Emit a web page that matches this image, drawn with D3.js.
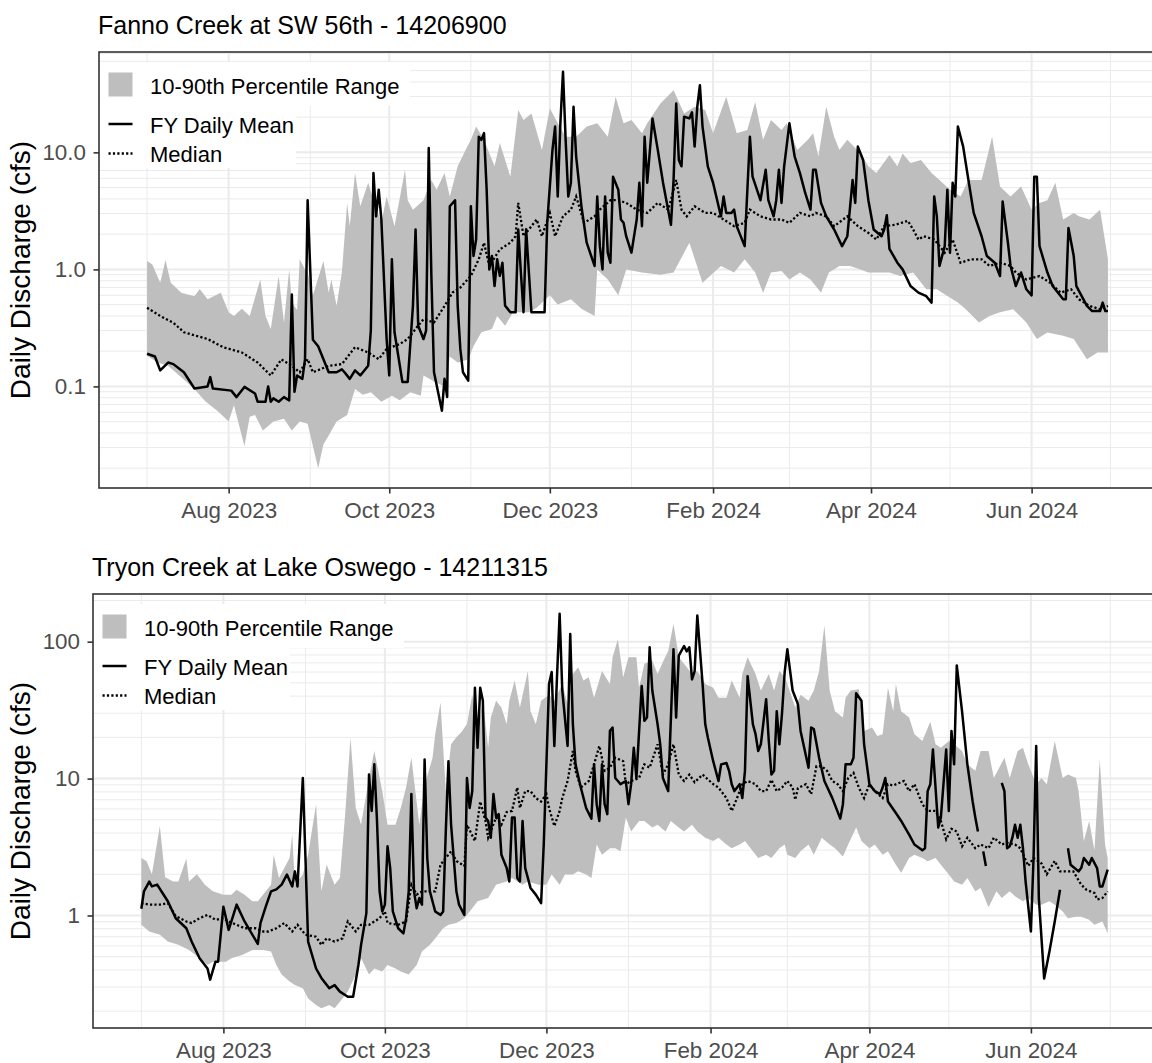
<!DOCTYPE html>
<html lang="en">
<head>
<meta charset="UTF-8">
<title>Daily Discharge - Fanno Creek and Tryon Creek</title>
<script src="https://d3js.org/d3.v7.min.js"></script>
<style>
  body { margin: 0; background: #fff; }
  svg { display: block; }
  svg text { font-family: "Liberation Sans", Arial, sans-serif; }
</style>
</head>
<body>
<svg id="chart" width="1152" height="1063"></svg>
<script>
// fiscal year runs 2023-07-01 .. 2024-06-30, day 0 = Jul 1 2023
// each series is [day, cfs]; null = missing day

const fannoMean = [[0,0.19],[3,0.18],[5,0.137],[8,0.16],[10,0.155],[14,0.132],[18,0.096],[23,0.10],[24,0.12],[25,0.096],
  [32,0.092],[34,0.081],[37,0.099],[41,0.087],[42,0.074],[45,0.074],[46,0.10],[47,0.074],[48,0.079],[50,0.074],[52,0.081],
  [54,0.076],[55,0.61],[56,0.09],[57,0.124],[59,0.116],[60,0.17],[61,3.9],[63,0.25],[65,0.22],[69,0.132],[72,0.132],[74,0.14],
  [75,0.132],[77,0.116],[79,0.137],[81,0.124],[84,0.15],[85,0.3],[86,6.65],[87,2.84],[88,4.8],[89,2.67],[91,0.254],[92,0.124],
  [93,1.22],[94,0.29],[97,0.109],[99,0.109],[101,0.487],[102,2.19],[103,0.33],[105,0.254],[106,0.30],[107,10.9],[108,0.88],
  [109,0.132],[112,0.062],[113,0.116],[114,0.081],[115,3.46],[117,3.9],[118,0.487],[119,0.209],[120,0.132],[122,0.112],
  [123,3.46],[124,1.3],[125,1.8],[126,13.6],[127,12.8],[128,14.6],[129,4.8],[130,1.0],[131,1.3],[132,0.72],[133,1.22],
  [134,0.88],[135,1.14],[136,0.49],[138,0.43],[140,0.43],[141,2.19],[142,0.94],[143,0.43],[144,2.2],[146,0.43],[151,0.43],
  [152,2.5],[154,10.5],[155,16.6],[156,4.2],[157,17.7],[158,48.8],[159,12.8],[160,4.2],[161,5.5],[162,24.5],[163,9.2],
  [165,3.46],[167,1.69],[170,1.07],[171,4.2],[172,1.58],[173,1.0],[174,4.2],[175,1.39],[176,1.14],[177,6.2],[179,4.8],
  [180,2.67],[181,2.5],[182,1.92],[184,1.39],[186,2.67],[187,5.5],[188,2.34],[189,13.6],[190,5.5],[192,19.5],[194,10.5],
  [196,5.5],[199,2.4],[200,5.8],[201,26.2],[202,8.6],[203,7.6],[204,20.2],[206,19.5],[207,22],[208,11.2],[209,24.5],
  [210,37.5],[211,16.6],[213,7.6],[215,5.5],[218,2.84],[219,4.2],[220,3.04],[222,3.04],[223,3.24],[224,2.34],[225,2.05],
  [227,1.58],[229,13.6],[230,6.2],[233,3.9],[235,7.1],[236,3.9],[238,2.84],[239,3.9],[240,7.1],[241,3.7],[242,7.6],
  [244,17.7],[246,9.2],[248,6.65],[250,4.5],[252,3.24],[253,7.1],[254,7.1],[256,3.7],[258,2.84],[261,2.19],[264,1.58],
  [266,1.92],[268,5.8],[269,3.7],[270,11.2],[272,8.6],[274,3.9],[276,2.19],[279,1.92],[280,2.19],[281,2.9],[282,1.5],
  [285,1.14],[287,1.0],[290,0.72],[293,0.633],[296,0.59],[298,0.52],[299,4.2],[300,2.84],[301,1.07],[303,1.58],[304,4.8],
  [305,1.39],[306,5.5],[307,4.2],[308,16.6],[310,11.2],[312,5.8],[314,3.04],[317,1.92],[319,1.3],[322,1.14],[324,0.877],
  [325,3.8],[327,1.69],[328,1.07],[330,0.72],[332,0.94],[334,0.676],[336,0.6],[337,6.2],[338,6.2],[339,1.58],[342,0.94],
  [344,0.72],[348,0.555],[349,0.555],[350,2.26],[352,1.3],[353,0.72],[357,0.487],[359,0.44],[362,0.44],[363,0.52],
  [364,0.44],[365,0.44]];

const fannoMedian = [[0,0.47],[5,0.40],[10,0.35],[14,0.29],[23,0.254],[29,0.216],[36,0.195],[42,0.16],[47,0.124],[51,0.17],
  [55,0.15],[58,0.132],[61,0.171],[63,0.132],[69,0.15],[74,0.155],[79,0.216],[84,0.195],[88,0.171],[91,0.209],[96,0.23],
  [99,0.254],[103,0.33],[105,0.375],[109,0.352],[113,0.487],[116,0.633],[119,0.70],[123,0.88],[126,1.22],[128,1.69],
  [130,1.07],[134,1.48],[138,1.69],[140,1.92],[141,3.7],[143,1.92],[146,2.34],[148,2.67],[150,1.92],[153,3.04],[155,1.92],
  [158,2.84],[161,3.24],[163,4.2],[166,2.5],[170,2.84],[172,3.24],[176,3.9],[179,3.9],[182,3.7],[186,3.24],[190,3.04],
  [194,3.7],[198,3.24],[201,5.8],[203,3.24],[205,2.84],[208,3.46],[212,3.04],[215,3.04],[219,2.67],[223,2.34],[227,2.5],
  [229,3.24],[233,2.84],[237,2.67],[241,2.67],[244,2.5],[248,3.04],[252,2.84],[254,3.04],[258,2.84],[261,2.34],[266,2.84],
  [270,2.34],[274,2.05],[277,1.8],[280,2.34],[284,2.4],[289,2.6],[291,2.19],[293,1.8],[295,1.92],[299,1.8],[303,1.39],
  [306,1.8],[309,1.14],[313,1.22],[317,1.22],[320,1.07],[324,1.14],[328,1.07],[330,0.94],[334,0.82],[339,0.877],
  [343,0.77],[347,0.633],[351,0.676],[354,0.555],[358,0.487],[362,0.457],[365,0.487]];

const fannoHi = [[0,1.18],[2,1.1],[5,0.77],[7,1.2],[9,0.77],[13,0.63],[18,0.59],[20,0.68],[23,0.555],[28,0.63],[31,0.43],
  [33,0.40],[36,0.46],[39,0.40],[43,0.82],[45,0.40],[47,0.31],[50,0.88],[52,0.35],[54,1.0],[55,0.52],[57,0.45],[58,1.22],
  [60,1.0],[61,0.94],[63,0.6],[67,1.18],[69,0.63],[70,0.82],[72,0.49],[74,0.94],[76,3.7],[77,2.34],[79,6.65],[81,3.46],
  [84,5.5],[86,3.9],[89,2.5],[91,4.2],[94,2.34],[98,7.1],[99,3.9],[101,3.24],[105,3.9],[108,5.8],[110,4.8],[113,6.65],
  [115,4.2],[118,7.6],[121,10.5],[123,12.8],[125,16.6],[128,12.8],[132,7.6],[134,12],[138,6.2],[141,23],[143,18.9],
  [146,21.5],[150,10.5],[153,23.8],[156,17.7],[159,13.6],[163,13.6],[167,16.6],[171,17.7],[175,13.6],[178,29.9],
  [181,17.7],[184,18.9],[188,14.6],[190,17.7],[195,26.2],[200,34],[204,21.5],[208,24.5],[212,23],[215,14.6],[220,29.9],
  [224,14.6],[228,15.5],[231,27],[234,12.8],[237,18.9],[241,15.5],[243,17.7],[247,10.5],[251,12.8],[253,14.6],[255,9.2],
  [258,24.5],[261,13.6],[263,10.5],[266,12.8],[271,9.8],[274,7.6],[277,6.65],[282,9.5],[285,7.6],[287,9.8],[290,8.1],
  [294,8.6],[298,6.65],[301,5.8],[305,4.8],[309,4.2],[312,5.8],[317,5.8],[321,13.6],[324,5.1],[328,4.2],[332,5.1],
  [336,3.24],[339,3.7],[342,3.9],[345,5.5],[348,2.67],[352,3.04],[354,2.84],[358,2.67],[362,3.24],[365,1.22]];

const fannoLo = [[0,0.183],[4,0.16],[8,0.15],[13,0.12],[18,0.095],[22,0.075],[27,0.061],[31,0.05],[33,0.069],[37,0.031],
  [39,0.055],[41,0.057],[44,0.042],[48,0.05],[52,0.053],[55,0.042],[58,0.05],[61,0.048],[63,0.031],[65,0.02],[67,0.032],
  [69,0.038],[72,0.05],[76,0.057],[79,0.095],[82,0.085],[85,0.089],[89,0.074],[93,0.083],[96,0.076],[100,0.089],
  [104,0.083],[105,0.124],[109,0.11],[113,0.10],[115,0.18],[118,0.16],[122,0.17],[124,0.22],[127,0.29],[131,0.31],
  [133,0.40],[136,0.33],[139,0.43],[145,0.43],[148,0.47],[153,0.6],[156,0.5],[161,0.555],[165,0.46],[170,0.40],
  [171,1.0],[175,0.82],[179,0.6],[182,1.0],[188,0.94],[195,0.9],[200,0.94],[206,1.69],[211,0.77],[218,1.07],[223,0.94],
  [227,1.22],[231,0.94],[234,0.63],[237,0.94],[241,0.97],[244,0.82],[248,0.94],[252,0.82],[256,0.633],[259,0.94],
  [263,1.07],[267,1.07],[271,1.0],[274,0.94],[279,0.94],[282,0.94],[286,0.88],[291,0.94],[296,0.676],[300,0.676],
  [304,0.593],[308,0.52],[311,0.457],[316,0.352],[320,0.40],[324,0.43],[329,0.457],[334,0.352],[338,0.254],[342,0.289],
  [348,0.271],[352,0.254],[357,0.171],[361,0.195],[365,0.195]];

const tryonMean = [[0,1.12],[1,1.5],[3,1.77],[4,1.63],[6,1.68],[8,1.46],[10,1.27],[13,0.955],[17,0.807],[19,0.645],
  [22,0.487],[25,0.41],[26,0.34],[28,0.46],[29,0.46],[31,1.16],[33,0.785],[36,1.2],[39,0.904],[44,0.62],[45,0.88],
  [47,1.16],[49,1.5],[51,1.55],[53,1.68],[55,1.99],[57,1.63],[58,2.1],[59,1.63],[61,10.1],[62,2.63],[63,0.645],[66,0.41],
  [68,0.35],[71,0.294],[73,0.31],[75,0.278],[78,0.255],[80,0.255],[82,0.435],[83,0.61],[85,1.04],[86,10.7],[87,5.8],
  [88,12.7],[89,5],[90,1.5],[91,1.07],[92,1.2],[93,3.2],[94,2.22],[95,1.07],[97,0.807],[99,0.74],[100,0.955],[101,1.5],
  [102,7.7],[103,1.5],[104,1.13],[105,1.34],[106,1.2],[107,13.8],[108,2.63],[109,1.5],[111,1.07],[113,1.01],[114,1.07],
  [115,4.1],[116,13.4],[117,4.6],[119,1.5],[120,1.2],[122,1.01],[123,10.1],[124,6.1],[125,8.1],[126,46],[127,16.8],
  [128,46],[129,37],[130,5.2],[131,4.9],[132,3.7],[133,7.7],[134,5.2],[135,5.5],[136,2.78],[138,2.22],[139,1.77],
  [140,5.2],[141,5.2],[142,1.88],[143,1.77],[144,4.9],[145,2.22],[147,1.59],[149,1.42],[151,1.23],[152,3.3],[154,49],
  [155,60],[156,17.3],[157,55],[158,160],[159,44],[161,17.3],[162,114],[163,24.9],[164,12.7],[166,8.6],[168,6.1],
  [170,5.1],[171,12.7],[172,6.5],[173,4.9],[174,12.7],[175,6.5],[176,5.5],[177,22.3],[178,23.6],[179,10.1],[180,9.6],
  [181,9.1],[183,9.6],[184,6.5],[185,9.1],[186,16.8],[187,10.1],[189,47.5],[190,26.4],[191,27.9],[192,91],[193,44],
  [195,24.9],[196,17.8],[197,10.1],[199,8.1],[201,88],[202,27.9],[203,79],[205,93],[206,85],[207,91],[208,53],[209,61],
  [210,155],[212,49],[213,24.9],[214,19.9],[216,13.4],[218,9.6],[219,12.7],[221,13],[222,11.4],[223,9.1],[224,8.1],
  [226,9.1],[227,7.2],[228,11.4],[229,56],[231,24.9],[232,21.1],[233,15.9],[234,17.8],[236,38],[237,18.8],[238,10.7],
  [239,11.4],[240,31],[241,17.8],[242,30],[243,60],[244,88],[246,44],[248,35],[249,22.3],[252,12],[253,23.6],[254,23],
  [256,14.2],[258,9.6],[261,7.2],[264,5.1],[265,6.5],[266,12.7],[268,12.7],[269,14.2],[270,42],[272,37],[273,17.8],
  [275,9.1],[277,8.1],[279,7.7],[280,8.6],[281,10.1],[282,6.8],[285,5.6],[287,4.9],[290,3.9],[292,3.3],[295,3.0],
  [296,3.1],[297,8.1],[298,9.1],[299,16.3],[301,4.4],[302,5.2],[304,16.3],[305,5.8],[306,22.3],[307,12.7],[308,67],
  [310,31],[312,12.7],[314,6.8],[315,5.2],[316,4.1],[317,null],[318,2.94],[319,2.3],[320,null],[325,9.3],[326,8.1],
  [327,3.1],[328,3.2],[329,3.7],[330,4.6],[331,3.7],[332,4.6],[333,3.1],[334,1.77],[336,0.764],[337,2.63],[338,17.3],
  [339,1.34],[341,0.347],[343,0.545],[345,0.904],[347,1.54],[348,null],[350,3.1],[351,2.35],[354,2.1],[355,2.22],
  [356,2.63],[358,2.35],[359,2.63],[361,2.22],[362,1.63],[363,1.63],[365,2.16]];

const tryonMedian = [[0,1.23],[3,1.2],[7,1.2],[10,1.23],[13,0.99],[17,0.904],[19,0.88],[22,0.955],[25,1.01],[28,0.93],
  [31,0.955],[33,0.904],[36,0.855],[39,0.807],[43,0.807],[46,0.764],[48,0.764],[51,0.807],[54,0.88],[57,0.764],[59,0.855],
  [62,0.722],[66,0.7],[68,0.61],[70,0.68],[73,0.645],[76,0.68],[78,0.904],[81,0.764],[83,0.855],[86,0.855],[90,0.955],
  [92,1.07],[93,0.88],[97,0.855],[100,0.904],[102,1.68],[104,1.42],[106,1.5],[109,1.5],[111,1.5],[113,2.35],[115,2.63],
  [117,2.94],[119,2.5],[122,2.3],[123,4.6],[126,3.5],[128,6.8],[130,4.9],[131,3.7],[134,5.2],[136,4.6],[138,5.7],
  [140,5.8],[142,8.6],[143,6.1],[145,8.1],[147,8.1],[149,7.2],[151,6.8],[153,7.7],[154,6.1],[156,4.5],[158,5.8],[159,7.2],
  [161,9.6],[163,15.9],[164,11.4],[166,8.6],[169,9.6],[171,12.7],[173,17.3],[175,11.4],[177,12],[179,14.2],[182,13.4],
  [183,9.1],[185,9.6],[188,10.1],[190,12.7],[192,12],[195,17.8],[197,10.7],[199,12.7],[201,17.8],[203,10.7],[205,9.6],
  [207,10.7],[209,9.4],[212,10.7],[216,9.1],[218,8.6],[221,7.2],[223,5.8],[225,7.2],[227,9.1],[229,9.6],[232,9.1],
  [234,8.1],[236,8.1],[238,9.8],[240,8.1],[242,8.6],[244,9.6],[246,8.6],[247,7.0],[248,8.5],[251,9.1],[253,7.7],
  [255,12.3],[257,12.3],[259,11.4],[261,9.6],[263,9.1],[265,8.1],[267,10.1],[269,11],[271,8.6],[273,7.2],[275,9.1],
  [277,8.1],[280,7.2],[282,9.1],[284,8.9],[288,9.6],[290,8.1],[292,9.1],[295,6.5],[297,5.8],[300,5.8],[302,4.9],[304,3.6],
  [306,4.3],[308,4.1],[310,3.2],[312,3.7],[315,3.1],[317,3.3],[320,3.1],[322,3.7],[325,3.3],[327,3.4],[330,3.3],
  [332,3.1],[335,2.3],[337,2.63],[340,2.4],[342,2.0],[345,2.5],[347,2.1],[350,2.1],[352,2.1],[355,1.68],[357,1.54],
  [360,1.46],[361,1.31],[363,1.34],[365,1.5]];

const tryonHi = [[0,2.63],[2,2.49],[4,2.0],[7,4.5],[9,1.9],[12,1.77],[14,1.77],[17,2.6],[18,1.77],[21,2.0],[24,1.68],
  [27,1.5],[31,1.42],[34,1.42],[36,1.54],[39,1.42],[42,1.27],[44,1.27],[47,1.5],[49,1.68],[50,2.78],[52,1.88],[56,2.63],
  [57,3.9],[58,1.68],[61,1.99],[63,2.78],[66,6.5],[68,1.5],[70,2.35],[73,1.68],[75,1.88],[77,5.5],[79,19.9],[81,6.1],
  [83,4.6],[86,10.1],[88,15.9],[91,8.1],[93,4.6],[96,4.6],[98,6.1],[100,8.6],[102,14.2],[105,4.6],[107,8.9],[110,14.2],
  [111,21.1],[113,36],[115,8.1],[117,17.8],[119,20],[121,22],[123,25],[125,41],[127,22.3],[129,37],[131,16.8],[132,27.9],
  [134,37],[136,33],[138,24.9],[139,37],[141,52],[143,33],[146,61],[147,31],[149,24.9],[151,37],[154,41],[156,37],
  [159,49],[161,35],[163,58],[165,65],[167,52],[169,55],[171,39],[174,61],[177,49],[178,77],[180,104],[182,55],[184,77],
  [187,77],[188,46],[190,69],[193,73],[195,58],[197,71],[199,85],[201,135],[203,77],[205,69],[208,58],[210,61],[213,49],
  [216,46],[218,39],[221,39],[223,52],[226,39],[227,58],[229,77],[232,58],[234,44],[237,58],[239,44],[241,61],[243,55],
  [244,49],[247,33],[249,41],[252,37],[254,44],[256,61],[258,131],[260,44],[262,31],[265,27.9],[266,39],[268,44],
  [271,45],[273,22.3],[276,23.6],[278,20.5],[280,21.1],[282,46],[284,31],[285,49],[287,31],[290,27.9],[292,21.1],
  [295,18.8],[298,26],[300,17.8],[302,16.8],[305,18.8],[307,17.8],[310,15.9],[312,12.7],[315,11.4],[317,15.9],[320,15.9],
  [322,10.1],[326,14.2],[328,10.1],[331,15.9],[333,16.8],[335,12.7],[338,9.1],[340,10.1],[342,9.1],[345,18.8],[348,10.1],
  [350,10.7],[353,10.1],[354,8.1],[356,3.5],[358,4.9],[360,3.0],[362,13.8],[364,3.3],[365,2.63]];

const tryonLo = [[0,0.855],[3,0.764],[7,0.722],[10,0.645],[14,0.61],[18,0.56],[22,0.487],[25,0.435],[27,0.46],[29,0.46],
  [32,0.46],[34,0.487],[38,0.515],[42,0.56],[46,0.56],[49,0.545],[51,0.435],[53,0.37],[56,0.33],[58,0.31],[61,0.294],
  [63,0.248],[66,0.222],[68,0.21],[71,0.222],[73,0.21],[76,0.248],[78,0.278],[81,0.37],[83,0.487],[86,0.37],[88,0.41],
  [91,0.39],[93,0.435],[96,0.41],[98,0.39],[101,0.37],[104,0.435],[106,0.545],[109,0.61],[111,0.68],[114,0.807],
  [116,0.855],[119,0.88],[122,0.955],[125,1.13],[127,1.27],[131,1.34],[134,1.68],[138,1.77],[140,1.88],[144,1.68],
  [146,1.77],[150,1.68],[153,1.68],[155,1.99],[158,1.68],[160,1.99],[163,1.99],[165,2.1],[168,1.99],[170,1.88],[172,3.3],
  [174,2.78],[177,3.1],[179,3.1],[181,2.94],[183,5.2],[185,4.1],[188,4.9],[190,4.9],[193,4.4],[195,4.6],[198,4.1],
  [200,4.9],[203,4.4],[205,4.1],[208,4.6],[210,4.1],[213,3.7],[216,3.5],[218,3.7],[221,3.3],[223,3.1],[226,3.3],
  [228,3.5],[231,2.94],[233,2.63],[236,2.78],[238,2.63],[241,3.1],[243,3.3],[244,2.78],[247,2.63],[249,2.94],[252,3.3],
  [254,2.78],[257,3.7],[260,3.3],[262,3.1],[265,2.7],[267,3.3],[270,4.4],[272,3.5],[275,3.1],[277,3.3],[280,2.78],
  [282,2.94],[285,2.35],[287,2.05],[290,2.63],[292,2.78],[295,2.63],[297,2.49],[300,2.63],[302,2.35],[305,1.99],
  [307,1.77],[310,1.68],[312,1.88],[315,1.5],[317,1.59],[320,1.15],[323,1.5],[325,1.34],[328,1.5],[330,1.38],[333,1.27],
  [335,1.34],[338,1.2],[340,1.2],[343,1.27],[345,1.2],[348,1.07],[350,0.955],[353,0.98],[355,0.98],[358,0.93],
  [360,0.855],[363,0.904],[365,0.74]];

// axis breaks and labels
const majorMonths = ["2023-08-01", "2023-10-01", "2023-12-01", "2024-02-01", "2024-04-01", "2024-06-01"];
const minorMonths = ["2023-07-01", "2023-09-01", "2023-11-01", "2024-01-01", "2024-03-01", "2024-05-01", "2024-07-01"];
const fannoYTicks = [0.1, 1, 10];
const fannoYLabels = ["0.1", "1.0", "10.0"];
const tryonYTicks = [1, 10, 100];
const tryonYLabels = ["1", "10", "100"];
const legendLabels = ["10-90th Percentile Range", "FY Daily Mean", "Median"];
const yTitle = "Daily Discharge (cfs)";

const fyStart = Date.UTC(2023, 6, 1);
const toDate = d => new Date(fyStart + d * 864e5);

const panels = [
  { title: "Fanno Creek at SW 56th - 14206900", mean: fannoMean, median: fannoMedian, lo: fannoLo, hi: fannoHi,
    yTicks: fannoYTicks, yLabels: fannoYLabels, left: 99, top: 52, bottom: 488 },
  { title: "Tryon Creek at Lake Oswego - 14211315", mean: tryonMean, median: tryonMedian, lo: tryonLo, hi: tryonHi,
    yTicks: tryonYTicks, yLabels: tryonYLabels, left: 93, top: 594, bottom: 1028 }
];
const panelRight = 1156;   // right border sits just past the image edge
const gridCol = "#ebebeb";
const inkCol = "#333333";
const bandCol = "#bebebe";
const meanWidth = 2.5;
const medianWidth = 2.3;
const medianDash = "2.2,2.2";

const svg = d3.select("#chart");

panels.forEach((p, i) => {
  const g = svg.append("g");
  const L = p.left, T = p.top, B = p.bottom, R = panelRight;

  // ggplot-style 5% expansion on both scales
  const x = d3.scaleUtc()
    .domain([toDate(-365 * 0.05), toDate(365 * 1.05)])
    .range([L, R]);
  const vals = [...p.mean, ...p.median, ...p.lo, ...p.hi].map(d => d[1]).filter(v => v != null);
  const lmin = Math.log10(d3.min(vals)), lmax = Math.log10(d3.max(vals));
  const pad = (lmax - lmin) * 0.05;
  const y = d3.scaleLog().domain([10 ** (lmin - pad), 10 ** (lmax + pad)]).range([B, T]);

  g.append("clipPath").attr("id", "clip" + i)
    .append("rect").attr("x", L).attr("y", T).attr("width", R - L).attr("height", B - T);
  const plot = g.append("g").attr("clip-path", `url(#clip${i})`);

  // minor grid: 2..9 x 10^k
  const [d0, d1] = y.domain();
  const minorY = [];
  for (let k = Math.floor(Math.log10(d0)); k <= Math.ceil(Math.log10(d1)); k++) {
    for (let m = 2; m <= 9; m++) {
      const v = m * 10 ** k;
      if (v > d0 && v < d1) minorY.push(v);
    }
  }
  plot.selectAll(".gy-minor").data(minorY).join("line")
    .attr("x1", L).attr("x2", R).attr("y1", d => y(d)).attr("y2", d => y(d))
    .attr("stroke", gridCol).attr("stroke-width", 1);
  plot.selectAll(".gx-minor").data(minorMonths.map(s => new Date(s))).join("line")
    .attr("x1", d => x(d)).attr("x2", d => x(d)).attr("y1", T).attr("y2", B)
    .attr("stroke", gridCol).attr("stroke-width", 1);
  plot.selectAll(".gy-major").data(p.yTicks).join("line")
    .attr("x1", L).attr("x2", R).attr("y1", d => y(d)).attr("y2", d => y(d))
    .attr("stroke", gridCol).attr("stroke-width", 2);
  plot.selectAll(".gx-major").data(majorMonths.map(s => new Date(s))).join("line")
    .attr("x1", d => x(d)).attr("x2", d => x(d)).attr("y1", T).attr("y2", B)
    .attr("stroke", gridCol).attr("stroke-width", 2);

  // 10-90th percentile band: upper edge forward, lower edge back
  const pt = d => [x(toDate(d[0])), y(d[1])];
  const bandPts = p.hi.map(pt).concat(p.lo.slice().reverse().map(pt));
  plot.append("path")
    .attr("d", d3.line()(bandPts) + "Z")
    .attr("fill", bandCol);

  const line = d3.line()
    .defined(d => d[1] != null)
    .x(d => x(toDate(d[0])))
    .y(d => y(d[1]));

  plot.append("path").datum(p.median)
    .attr("d", line)
    .attr("fill", "none").attr("stroke", "#000").attr("stroke-width", medianWidth)
    .attr("stroke-dasharray", medianDash);

  plot.append("path").datum(p.mean)
    .attr("d", line)
    .attr("fill", "none").attr("stroke", "#000").attr("stroke-width", meanWidth)
    .attr("stroke-linejoin", "round");

  // legend inside the panel, top-left
  const lg = g.append("g");
  lg.append("rect").attr("x", L + 1).attr("y", T + 10).attr("width", 310).attr("height", 44).attr("fill", "#fff");
  lg.append("rect").attr("x", L + 1).attr("y", T + 52).attr("width", 196).attr("height", 64).attr("fill", "#fff");
  lg.append("rect").attr("x", L + 9.5).attr("y", T + 20.5).attr("width", 24).attr("height", 24).attr("fill", bandCol);
  lg.append("line").attr("x1", L + 9.5).attr("x2", L + 33.5).attr("y1", T + 72).attr("y2", T + 72)
    .attr("stroke", "#000").attr("stroke-width", meanWidth);
  lg.append("line").attr("x1", L + 9.5).attr("x2", L + 33.5).attr("y1", T + 101.5).attr("y2", T + 101.5)
    .attr("stroke", "#000").attr("stroke-width", medianWidth).attr("stroke-dasharray", medianDash);
  lg.selectAll("text").data(legendLabels).join("text")
    .attr("x", L + 51)
    .attr("y", (d, j) => T + [42, 81, 110][j])
    .attr("font-size", 22).attr("fill", "#000")
    .text(d => d);

  // panel border
  g.append("rect").attr("x", L).attr("y", T).attr("width", R - L).attr("height", B - T)
    .attr("fill", "none").attr("stroke", inkCol).attr("stroke-width", 1.6);

  // axes
  const xAxis = g.append("g").attr("transform", `translate(0,${B})`)
    .call(d3.axisBottom(x)
      .tickValues(majorMonths.map(s => new Date(s)))
      .tickFormat(d3.utcFormat("%b %Y"))
      .tickSize(5.5).tickSizeOuter(0).tickPadding(8.5));
  const yAxis = g.append("g").attr("transform", `translate(${L},0)`)
    .call(d3.axisLeft(y)
      .tickValues(p.yTicks)
      .tickFormat((d, j) => p.yLabels[j])
      .tickSize(5.5).tickSizeOuter(0).tickPadding(7.5));
  [xAxis, yAxis].forEach(ax => {
    ax.select(".domain").remove();
    ax.selectAll(".tick line").attr("stroke", inkCol).attr("stroke-width", 1.6);
    ax.selectAll(".tick text").attr("fill", "#4d4d4d").attr("font-size", 22.4)
      .attr("font-family", '"Liberation Sans", Arial, sans-serif');
  });

  // titles
  g.append("text")
    .attr("x", L - 1).attr("y", T - 18)
    .attr("font-size", 25).attr("fill", "#000")
    .text(p.title);
  g.append("text")
    .attr("transform", `translate(30,${(T + B) / 2}) rotate(-90)`)
    .attr("text-anchor", "middle")
    .attr("font-size", 28).attr("fill", "#000")
    .text(yTitle);
});
</script>
</body>
</html>
